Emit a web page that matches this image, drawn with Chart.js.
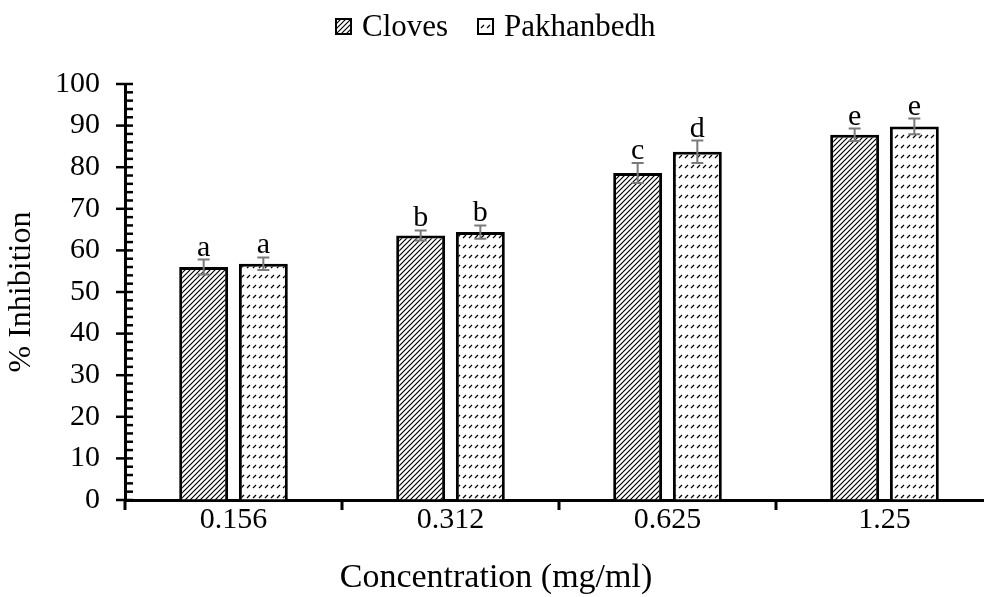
<!DOCTYPE html>
<html>
<head>
<meta charset="utf-8">
<script src="https://cdn.jsdelivr.net/npm/chart.js@4.4.1/dist/chart.umd.min.js"></script>
<style>
  html, body { margin: 0; padding: 0; background: #fff; overflow: hidden; }
  canvas { display: block; }
</style>
</head>
<body>
<canvas id="grafica" width="994" height="597"></canvas>
<script>
const concentraciones = ["0.156", "0.312", "0.625", "1.25"];
const clovesMedia = [56.0, 63.6, 78.6, 87.8];
const clovesError = [1.8, 1.2, 2.4, 1.5];
const clovesLetras = ["a", "b", "c", "e"];
const pakMedia = [56.8, 64.4, 83.7, 89.8];
const pakError = [1.5, 1.6, 2.7, 1.9];
const pakLetras = ["a", "b", "d", "e"];
const series = ["Cloves", "Pakhanbedh"];

const canvas = document.getElementById("grafica");
const ctx = canvas.getContext("2d");
const fuente = "'Liberation Serif', 'Times New Roman', serif";
const tamFuente = 30;

// rayado diagonal denso
function patronDenso() {
  const c = document.createElement("canvas");
  c.width = 5; c.height = 5;
  const g = c.getContext("2d");
  g.fillStyle = "#fff";
  g.fillRect(0, 0, 5, 5);
  g.strokeStyle = "#000";
  g.lineWidth = 1.2;
  g.beginPath();
  g.moveTo(0, 5); g.lineTo(5, 0);
  g.moveTo(-1, 1); g.lineTo(1, -1);
  g.moveTo(4, 6); g.lineTo(6, 4);
  g.stroke();
  return ctx.createPattern(c, "repeat");
}

// filas de guiones diagonales
function patronGuiones() {
  const c = document.createElement("canvas");
  c.width = 6; c.height = 10;
  const g = c.getContext("2d");
  g.fillStyle = "#fff";
  g.fillRect(0, 0, 6, 10);
  g.strokeStyle = "#000";
  g.lineWidth = 1.2;
  g.beginPath();
  g.moveTo(1, 8); g.lineTo(4, 5);
  g.stroke();
  return ctx.createPattern(c, "repeat");
}

const patrones = [patronDenso(), patronGuiones()];
const errores = [clovesError, pakError];
const letras = [clovesLetras, pakLetras];

const extras = {
  id: "extras",
  afterDraw(chart) {
    const c = chart.ctx;
    const x = chart.scales.x;
    const y = chart.scales.y;
    const area = chart.chartArea;
    c.save();

    // marcas del eje Y
    c.strokeStyle = "#000";
    c.lineWidth = 2.5;
    for (let v = 0; v <= 100; v += 2) {
      const py = y.getPixelForValue(v);
      c.beginPath();
      if (v % 10 === 0) {
        c.moveTo(area.left - 9, py);
      } else {
        c.moveTo(area.left, py);
      }
      c.lineTo(area.left + 8, py);
      c.stroke();
    }

    // marcas del eje X entre categorías
    c.lineWidth = 3;
    const bordes = [area.left];
    for (let i = 0; i < concentraciones.length - 1; i++) {
      bordes.push((x.getPixelForValue(i) + x.getPixelForValue(i + 1)) / 2);
    }
    for (const bx of bordes) {
      c.beginPath();
      c.moveTo(bx, area.bottom);
      c.lineTo(bx, area.bottom + 10);
      c.stroke();
    }

    // barras de error y letras
    chart.data.datasets.forEach((ds, d) => {
      const meta = chart.getDatasetMeta(d);
      meta.data.forEach((barra, i) => {
        const sup = y.getPixelForValue(ds.data[i] + errores[d][i]);
        const inf = y.getPixelForValue(ds.data[i] - errores[d][i]);
        c.strokeStyle = "#7a7a7a";
        c.lineWidth = 2;
        c.beginPath();
        c.moveTo(barra.x, sup); c.lineTo(barra.x, inf);
        c.moveTo(barra.x - 6, sup); c.lineTo(barra.x + 6, sup);
        c.moveTo(barra.x - 6, inf); c.lineTo(barra.x + 6, inf);
        c.stroke();
        c.fillStyle = "#000";
        c.font = tamFuente + "px " + fuente;
        c.textAlign = "center";
        c.textBaseline = "alphabetic";
        c.fillText(letras[d][i], barra.x, sup - 4);
      });
    });

    // leyenda
    c.font = "31px " + fuente;
    c.textAlign = "left";
    c.textBaseline = "alphabetic";
    const cajas = [336, 478];
    series.forEach((nombre, k) => {
      c.fillStyle = patrones[k];
      c.fillRect(cajas[k], 19, 15, 15);
      c.strokeStyle = "#000";
      c.lineWidth = 2;
      c.strokeRect(cajas[k], 19, 15, 15);
      c.fillStyle = "#000";
      c.fillText(nombre, cajas[k] + 26, 36);
    });

    // título del eje X
    c.font = "34px " + fuente;
    c.textAlign = "center";
    c.textBaseline = "middle";
    c.fillText("Concentration (mg/ml)", 496, 578);
    c.restore();
  }
};

let grafico = new Chart(ctx, {
  type: "bar",
  data: {
    labels: concentraciones,
    datasets: [
      {
        label: series[0],
        data: clovesMedia,
        backgroundColor: patrones[0],
        borderColor: "#000",
        borderWidth: 3,
        borderSkipped: "bottom",
      },
      {
        label: series[1],
        data: pakMedia,
        backgroundColor: patrones[1],
        borderColor: "#000",
        borderWidth: 3,
        borderSkipped: "bottom",
      },
    ],
  },
  options: {
    responsive: false,
    animation: false,
    devicePixelRatio: 1,
    layout: { padding: { top: 84, right: 1, left: 0, bottom: 0 } },
    datasets: {
      bar: { categoryPercentage: 0.55, barPercentage: 0.82 },
    },
    plugins: {
      legend: { display: false },
      tooltip: { enabled: false },
    },
    scales: {
      x: {
        grid: { drawOnChartArea: false, drawTicks: false },
        border: { display: true, color: "#000", width: 3 },
        ticks: { color: "#000", padding: 2, font: { family: fuente, size: tamFuente } },
        afterFit(scale) { scale.height = 97; },
      },
      y: {
        min: 0,
        max: 100,
        grid: { drawOnChartArea: false, drawTicks: false },
        border: { display: true, color: "#000", width: 3 },
        ticks: { stepSize: 10, color: "#000", padding: 25, font: { family: fuente, size: tamFuente } },
        title: {
          display: true,
          text: "% Inhibition",
          color: "#000",
          padding: { top: 2, bottom: 0 },
          font: { family: fuente, size: 32 },
        },
        afterFit(scale) { scale.width = 125; },
      },
    },
  },
  plugins: [extras],
});
</script>
</body>
</html>
